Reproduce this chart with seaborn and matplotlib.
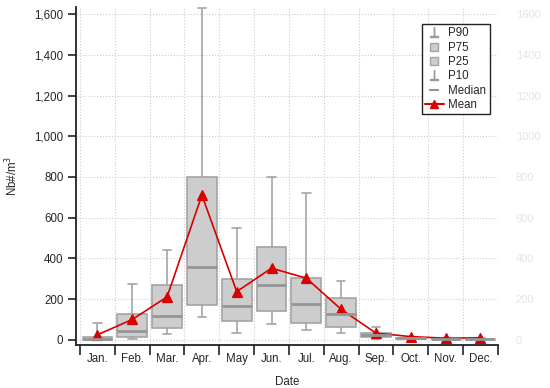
import numpy as np
import pandas as pd
import seaborn as sns
import matplotlib.pyplot as plt
from matplotlib.lines import Line2D
from matplotlib.ticker import FuncFormatter

# monthly stats (Nb#/m3)
months = ["Jan.", "Feb.", "Mar.", "Apr.", "May", "Jun.", "Jul.", "Aug.",
          "Sep.", "Oct.", "Nov.", "Dec."]
p10 = [0, 3, 29, 111, 36, 78, 49, 33, 6, 2, 1, 1]
p25 = [0, 12, 60, 172, 95, 144, 85, 62, 16, 5, 2, 2]
median = [6, 41, 119, 357, 167, 268, 178, 128, 25, 8, 3, 3]
p75 = [13, 126, 270, 801, 298, 458, 306, 205, 36, 11, 5, 5]
p90 = [85, 273, 441, 1632, 551, 798, 720, 290, 62, 16, 8, 10]
mean = [25, 100, 211, 711, 237, 352, 303, 150, 33, 16, 8, 10]

sns.set_style("white")
plt.rcParams["font.family"] = ["Liberation Sans", "DejaVu Sans"]

# five values per month: quartiles/median fall on p25/median/p75,
# and with whis=(0, 100) the whiskers end on p10/p90
rows = []
for i, m in enumerate(months):
    for v in (p10[i], p25[i], median[i], p75[i], p90[i]):
        rows.append((m, v))
df = pd.DataFrame(rows, columns=["month", "value"])

fig = plt.figure(figsize=(5.5, 3.88), dpi=100)
ax = fig.add_axes([0.138, 0.111, 0.767, 0.871])

sns.boxplot(data=df, x="month", y="value", order=months, whis=(0, 100),
            width=0.86, color="#cdcdcd", saturation=1, linecolor="#a4a4a4",
            linewidth=1.2, showfliers=False, capwidths=0.25,
            medianprops={"color": "#959595", "linewidth": 2}, ax=ax)
sns.pointplot(x=months, y=mean, order=months, color="#d80000", markers="^",
              markersize=7, linewidth=1.2, errorbar=None, ax=ax)

ax.set_xlim(-0.62, 11.5)
ax.set_ylim(-25, 1635)
ax.set_xticks(range(12))
ax.set_xticklabels(months)
ax.set_xticks(np.arange(-0.5, 12, 1), minor=True)
ax.tick_params(axis="x", which="major", length=0, pad=6, labelsize=8.3)
ax.tick_params(axis="x", which="minor", length=7, width=1.2, color="#222222",
               direction="out", bottom=True)
ax.set_yticks(range(0, 1601, 200))
ax.yaxis.set_major_formatter(FuncFormatter(lambda v, p: f"{int(v):,}"))
ax.tick_params(axis="y", length=6, width=1.2, color="#222222", direction="out",
               left=True, labelsize=8.3, pad=3)

ax.set_axisbelow(True)
ax.grid(which="minor", axis="x", ls=":", lw=0.8, color="#cccccc")
ax.grid(which="major", axis="y", ls=":", lw=0.8, color="#cccccc")
ax.grid(which="major", axis="x", visible=False)

for s in ["top", "right"]:
    ax.spines[s].set_visible(False)
for s in ["left", "bottom"]:
    ax.spines[s].set_color("#222222")
    ax.spines[s].set_linewidth(1.3)

ax.set_xlabel("Date", fontsize=8.3, labelpad=8)
ax.set_ylabel("Nb#/m$^3$", fontsize=8.3, labelpad=10)

# faint right axis
ax2 = ax.twinx()
ax2.set_ylim(ax.get_ylim())
ax2.set_yticks(range(0, 1601, 200))
ax2.tick_params(axis="y", length=0, pad=13, labelsize=8, labelcolor="#e4e4e4")
for s in ax2.spines.values():
    s.set_visible(False)

handles = [
    Line2D([], [], marker=r"$\perp$", color="#9a9a9a", ls="none", markersize=7),
    Line2D([], [], marker="s", markerfacecolor="#cdcdcd", markeredgecolor="#a4a4a4",
           ls="none", markersize=6),
    Line2D([], [], marker="s", markerfacecolor="#cdcdcd", markeredgecolor="#a4a4a4",
           ls="none", markersize=6),
    Line2D([], [], marker=r"$\perp$", color="#9a9a9a", ls="none", markersize=7),
    Line2D([], [], marker="_", color="#959595", ls="none", markersize=7,
           markeredgewidth=1.5),
    Line2D([], [], color="#d80000", lw=1.5, marker="^", markersize=6),
]
labels = ["P90", "P75", "P25", "P10", "Median", "Mean"]
leg = ax.legend(handles, labels, loc="upper right", bbox_to_anchor=(0.981, 0.95),
                borderaxespad=0, fontsize=8.3, frameon=True, fancybox=False,
                framealpha=1, edgecolor="#222222", labelspacing=0.2,
                handlelength=1.6, handletextpad=0.4, borderpad=0.3)
leg.get_frame().set_linewidth(1.0)

fig.savefig("out.png", dpi=100)
